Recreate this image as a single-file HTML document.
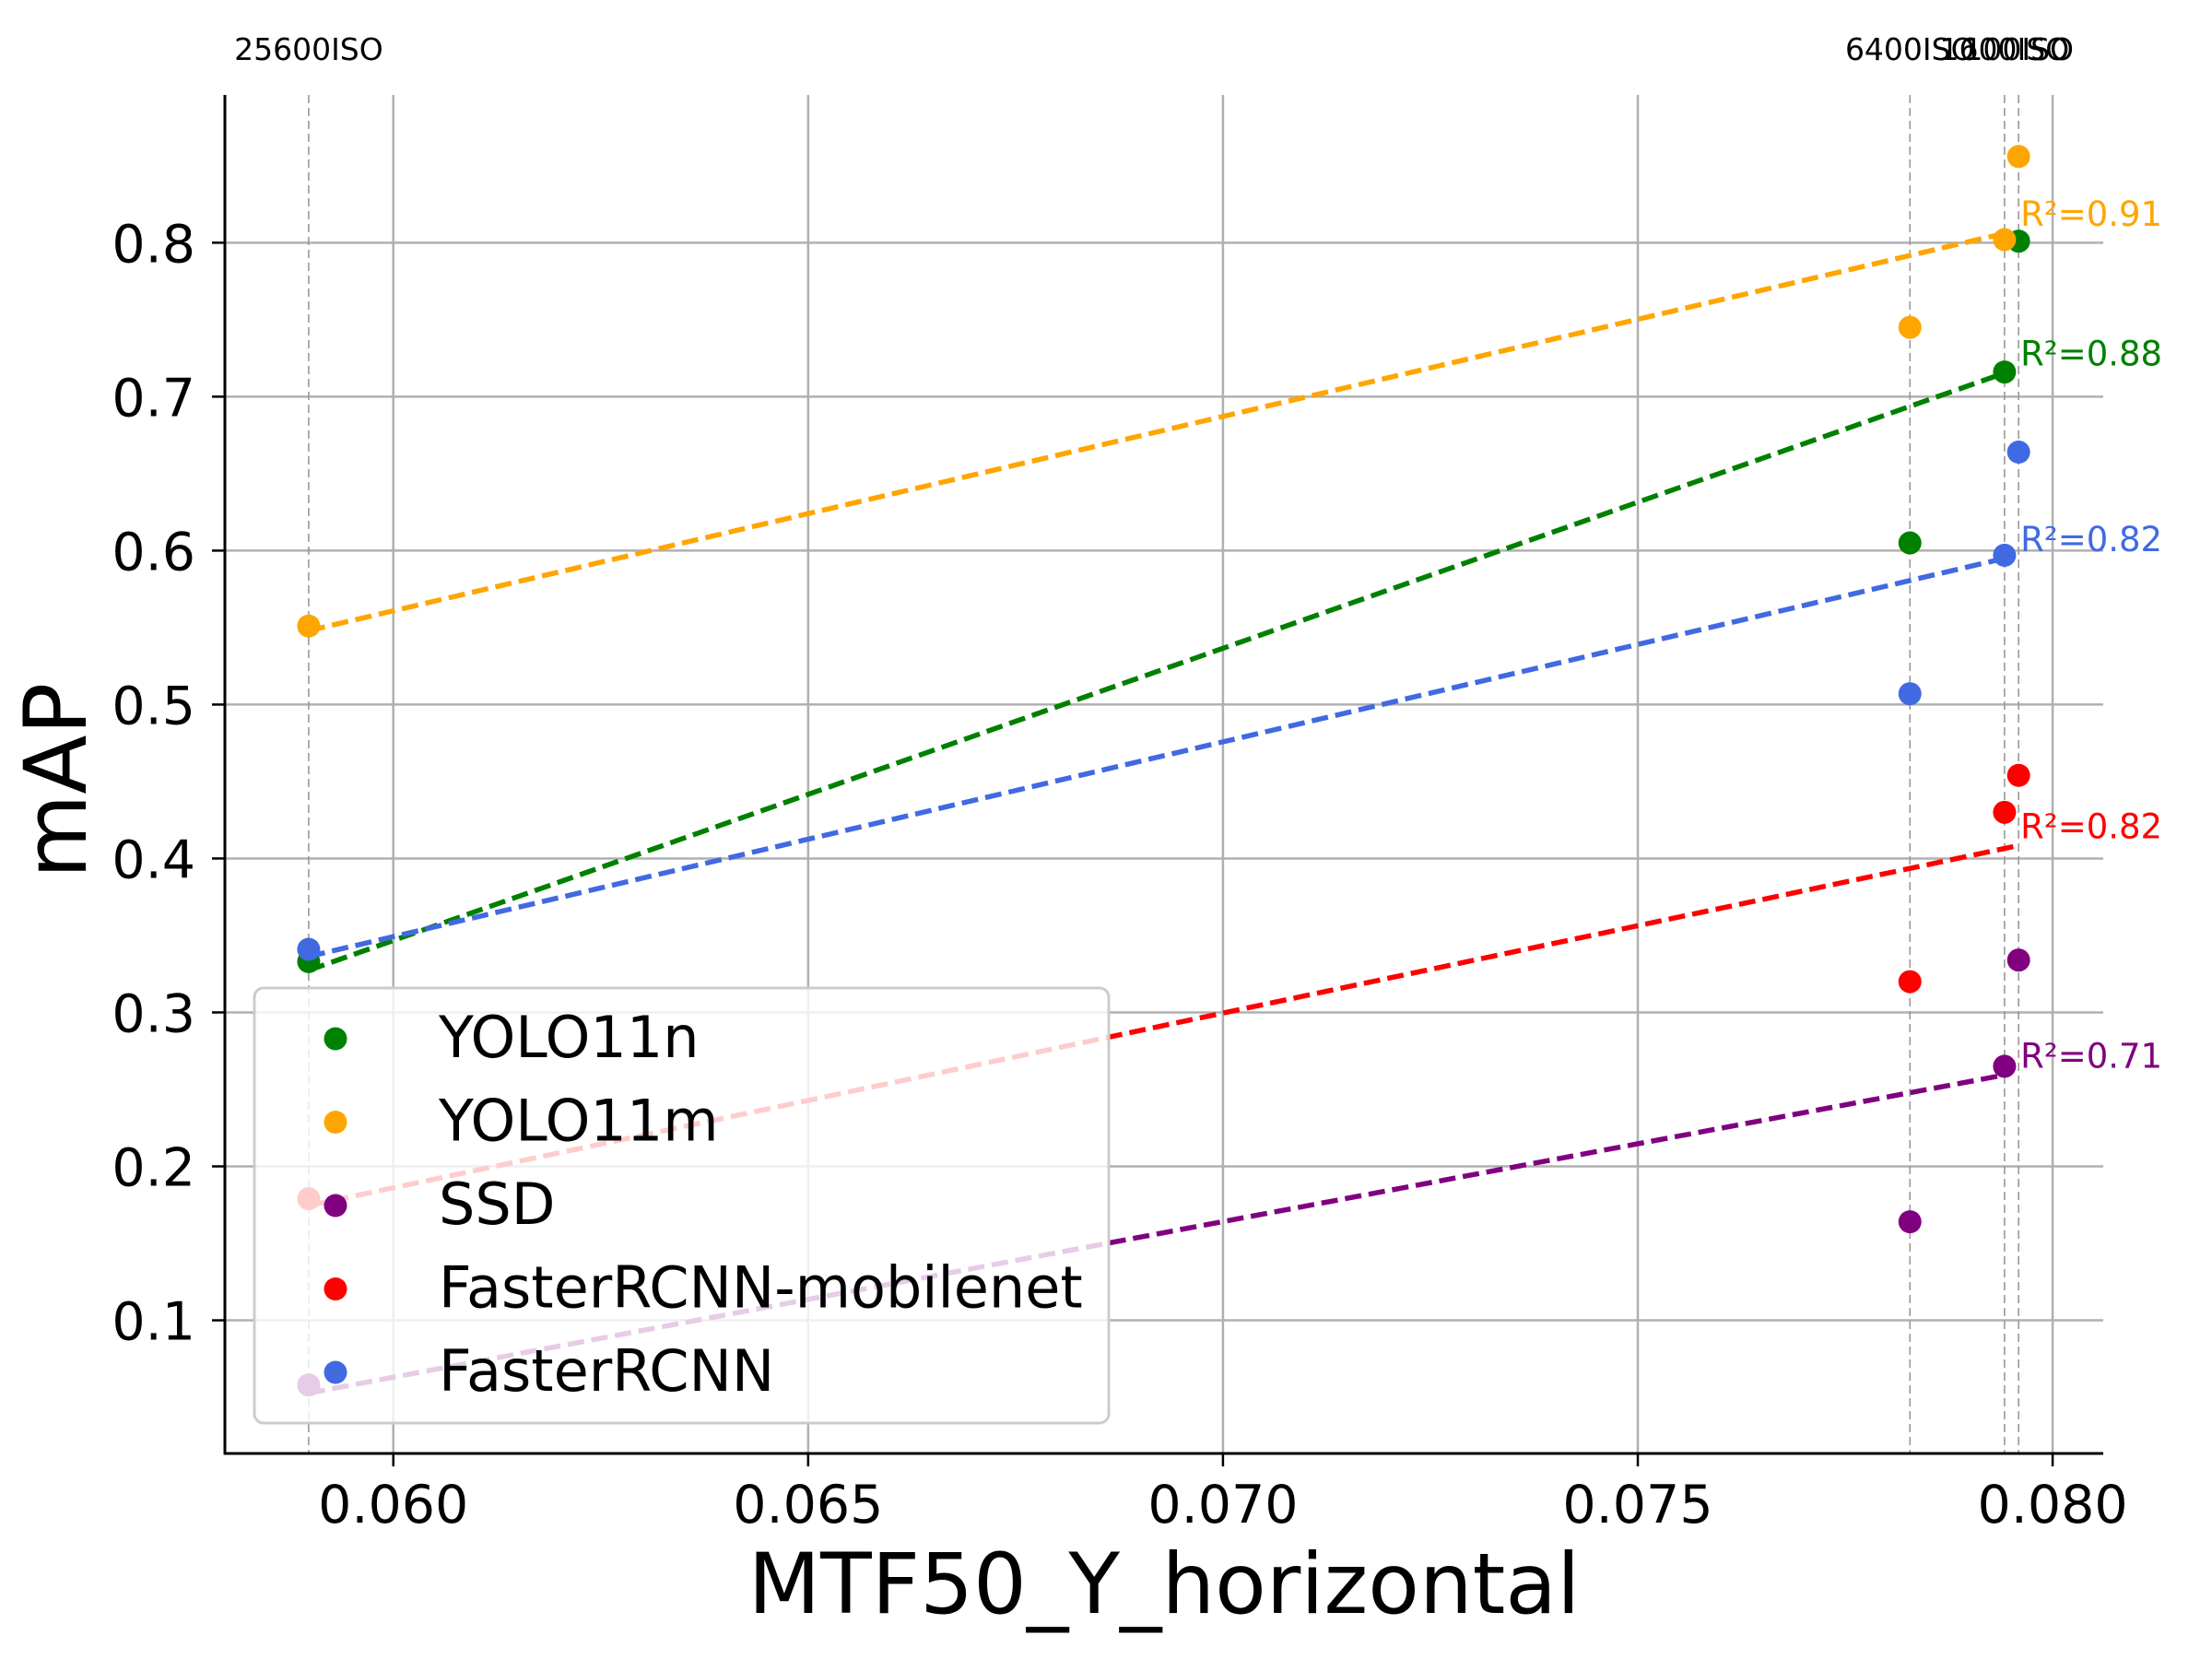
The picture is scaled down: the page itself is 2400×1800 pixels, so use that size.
<!DOCTYPE html>
<html><head><meta charset="utf-8"><style>
html,body{margin:0;padding:0;background:#fff;}
svg{display:block;font-family:"DejaVu Sans","Liberation Sans",sans-serif;}
</style></head><body>
<svg id="chart" width="2400" height="1800" viewBox="0 0 2400 1800" xmlns="http://www.w3.org/2000/svg"></svg>
<script>
const isoLabels = ["25600ISO","6400ISO","1600ISO","100ISO"];
const xValues = [0.05898, 0.07828, 0.07942, 0.07959];
const seriesNames = ["YOLO11n","YOLO11m","SSD","FasterRCNN-mobilenet","FasterRCNN"];
const seriesColors = ["green","orange","purple","red","royalblue"];
const yolo11n = [0.333, 0.605, 0.716, 0.801];
const yolo11m = [0.551, 0.745, 0.802, 0.856];
const ssd = [0.058, 0.164, 0.265, 0.334];
const frcnnMobile = [0.179, 0.320, 0.430, 0.454];
const frcnn = [0.341, 0.507, 0.597, 0.664];
const r2Labels = ["R²=0.88","R²=0.91","R²=0.71","R²=0.82","R²=0.82"];
const lineEndIndex = [2, 2, 2, 3, 2];
const xTicks = [0.060, 0.065, 0.070, 0.075, 0.080];
const xTickLabels = ["0.060","0.065","0.070","0.075","0.080"];
const yTicks = [0.1,0.2,0.3,0.4,0.5,0.6,0.7,0.8];
const yTickLabels = ["0.1","0.2","0.3","0.4","0.5","0.6","0.7","0.8"];
const allSeries = [yolo11n, yolo11m, ssd, frcnnMobile, frcnn];

const L=244, R=2282, T=103, B=1577;
const XMIN=0.05797, XMAX=0.08061, YMIN=0.0135, YMAX=0.896;
const sx = v => L + (v-XMIN)/(XMAX-XMIN)*(R-L);
const sy = v => B - (v-YMIN)/(YMAX-YMIN)*(B-T);
const NS="http://www.w3.org/2000/svg";
const svg=document.getElementById('chart');
function mk(tag, attrs, parent){const e=document.createElementNS(NS,tag);for(const k in attrs)e.setAttribute(k,attrs[k]);(parent||svg).appendChild(e);return e;}

xTicks.forEach((t,i)=>{
  const g=mk('line',{x1:sx(t),x2:sx(t),y1:T,y2:B,stroke:'#b0b0b0','stroke-width':2.5});
  
  
});
yTicks.forEach((t,i)=>{
  const g=mk('line',{x1:L,x2:R,y1:sy(t),y2:sy(t),stroke:'#b0b0b0','stroke-width':2.5});
  
  
});
xValues.forEach((v,i)=>{
  const l=mk('line',{x1:sx(v),x2:sx(v),y1:T,y2:B,stroke:'#999','stroke-width':1.6,'stroke-dasharray':'9,5'});
  
  
  const t=mk('text',{x:sx(v),y:65,'font-size':33,'text-anchor':'middle',fill:'#000'});
  t.textContent=isoLabels[i];
  
  
});
allSeries.forEach((s,si)=>{
  s.forEach((v,i)=>{
    const c=mk('circle',{cx:sx(xValues[i]),cy:sy(v),r:12.5,fill:seriesColors[si]});
    
    
  });
});
allSeries.forEach((s,si)=>{
  const n=s.length;let mx=0,my=0;
  for(let i=0;i<n;i++){mx+=xValues[i];my+=s[i];}mx/=n;my/=n;
  let sxy=0,sxx=0;for(let i=0;i<n;i++){sxy+=(xValues[i]-mx)*(s[i]-my);sxx+=(xValues[i]-mx)**2;}
  const b=sxy/sxx,a=my-b*mx;
  const x0=Math.min(...xValues), x1=xValues[lineEndIndex[si]];
  const ln=mk('line',{x1:sx(x0),y1:sy(a+b*x0),x2:sx(x1),y2:sy(a+b*x1),stroke:seriesColors[si],'stroke-width':5.5,'stroke-dasharray':'18,8'});
  
  
  const t=mk('text',{x:sx(xValues[n-1])+2,y:sy(a+b*x1)-8,'font-size':37,fill:seriesColors[si]});
  t.textContent=r2Labels[si];
  
  
});
const ax1=mk('line',{x1:L,x2:L,y1:T,y2:B+1,stroke:'#000','stroke-width':3});


const ax2=mk('line',{x1:L-1,x2:R,y1:B,y2:B,stroke:'#000','stroke-width':3});


xTicks.forEach((t,i)=>{
  const tk=mk('line',{x1:sx(t),x2:sx(t),y1:B,y2:B+14,stroke:'#000','stroke-width':2.5});
  
  
  const lb=mk('text',{x:sx(t),y:B+75,'font-size':57,'text-anchor':'middle',fill:'#000'});
  lb.textContent=xTickLabels[i];
  
  
});
yTicks.forEach((t,i)=>{
  const tk=mk('line',{x1:L-14,x2:L,y1:sy(t),y2:sy(t),stroke:'#000','stroke-width':2.5});
  
  
  const lb=mk('text',{x:L-32,y:sy(t)+21,'font-size':57,'text-anchor':'end',fill:'#000'});
  lb.textContent=yTickLabels[i];
  
  
});
const lg=mk('g',{});


mk('rect',{x:276,y:1072,width:927,height:472,rx:10,fill:'#fff','fill-opacity':0.8,stroke:'#cccccc','stroke-width':3},lg);
seriesNames.forEach((n,i)=>{
  const y=1127+i*90.5;
  const c=mk('circle',{cx:364,cy:y,r:12.5,fill:seriesColors[i]},lg);
  
  
  const t=mk('text',{x:476,y:y+20,'font-size':62,fill:'#000'},lg);
  t.textContent=n;
  
  
});
</script>
<svg style="position:absolute;left:0;top:0" width="2400" height="1800">
<text x="1263" y="1750" font-size="91" text-anchor="middle" font-family="DejaVu Sans, Liberation Sans, sans-serif">MTF50_Y_horizontal</text>
<text x="93" y="847" font-size="94" text-anchor="middle" transform="rotate(-90 93 847)" font-family="DejaVu Sans, Liberation Sans, sans-serif">mAP</text>
</svg>
</body></html>
